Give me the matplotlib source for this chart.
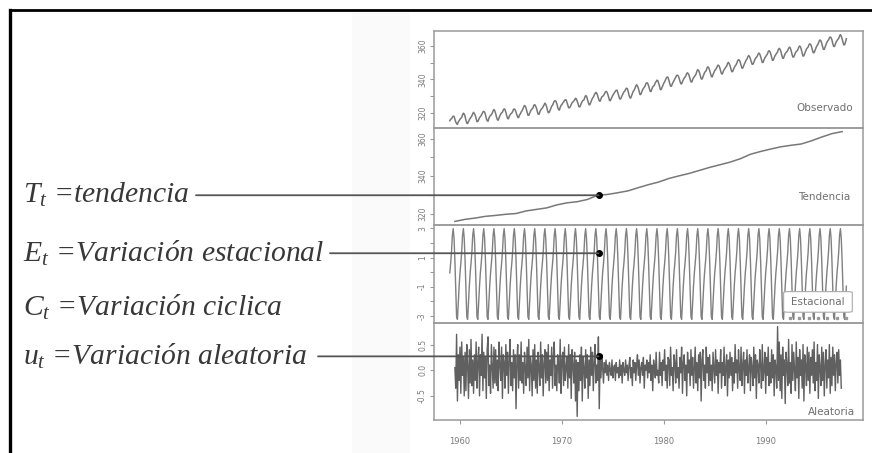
import numpy as np
import matplotlib.pyplot as plt
import matplotlib.transforms as mtransforms
from matplotlib.patches import ConnectionPatch, Rectangle, FancyBboxPatch
from matplotlib.lines import Line2D

plt.rcParams["mathtext.fontset"] = "custom"
plt.rcParams["mathtext.it"] = "Liberation Serif:italic"
plt.rcParams["mathtext.rm"] = "Liberation Serif"

# ---- data (monthly CO2-like series, 1959-1997) ----
obs_years = list(range(1959, 1998))
observed = [
    [315.4, 316.3, 316.5, 317.6, 318.1, 318.0, 316.4, 314.7, 313.7, 313.2, 314.7, 315.4],
    [316.3, 316.8, 317.4, 318.9, 319.9, 319.4, 318.0, 315.7, 314.0, 313.7, 314.8, 316.0],
    [316.7, 317.5, 318.3, 319.6, 320.4, 319.6, 318.6, 316.6, 314.8, 315.0, 316.0, 317.2],
    [317.9, 318.5, 319.5, 320.6, 321.0, 320.5, 319.0, 316.8, 315.4, 315.1, 316.8, 317.9],
    [318.6, 319.1, 319.9, 321.3, 322.1, 321.3, 319.7, 317.6, 316.0, 315.7, 317.1, 318.4],
    [319.4, 320.1, 320.5, 321.8, 322.5, 322.1, 320.5, 318.5, 316.8, 316.5, 317.9, 319.0],
    [319.6, 320.0, 320.8, 322.2, 322.4, 321.9, 320.4, 318.9, 317.5, 317.2, 318.8, 319.4],
    [320.6, 321.3, 322.3, 323.6, 324.5, 324.0, 322.6, 320.6, 318.7, 318.6, 319.9, 321.0],
    [321.9, 322.5, 323.1, 324.6, 325.0, 324.2, 323.0, 321.2, 319.3, 319.2, 320.6, 321.8],
    [322.4, 323.0, 323.9, 324.8, 325.9, 325.2, 323.8, 321.6, 320.2, 320.3, 321.5, 322.7],
    [324.1, 324.6, 325.9, 327.0, 327.4, 327.0, 325.6, 323.6, 322.1, 321.7, 323.3, 324.6],
    [325.0, 326.0, 326.5, 327.6, 327.8, 327.8, 326.3, 324.7, 323.1, 323.1, 324.0, 325.1],
    [326.1, 326.6, 327.2, 327.8, 328.8, 328.4, 327.1, 325.6, 323.8, 323.6, 324.7, 326.0],
    [326.9, 327.6, 327.8, 329.4, 330.4, 330.0, 328.4, 326.4, 324.9, 325.0, 326.4, 327.6],
    [328.8, 329.4, 330.6, 331.6, 332.3, 331.9, 330.6, 328.8, 327.3, 327.0, 328.4, 329.6],
    [329.9, 330.6, 331.2, 332.5, 332.9, 332.6, 331.2, 329.6, 327.6, 327.3, 328.4, 329.4],
    [330.6, 331.4, 332.1, 333.0, 333.6, 333.6, 331.9, 330.1, 328.5, 328.3, 329.4, 330.6],
    [331.6, 332.6, 333.0, 334.1, 334.8, 334.6, 333.0, 330.8, 329.2, 328.9, 330.3, 331.6],
    [332.9, 333.6, 334.7, 336.0, 336.9, 336.1, 334.8, 332.9, 331.0, 331.1, 332.6, 333.9],
    [334.7, 335.4, 336.1, 337.6, 338.1, 337.8, 336.4, 334.6, 332.9, 332.8, 334.4, 335.6],
    [336.1, 336.7, 338.0, 338.8, 339.6, 339.3, 337.7, 336.1, 333.9, 334.1, 335.3, 336.6],
    [337.8, 338.6, 339.8, 340.9, 341.5, 341.3, 339.4, 337.7, 336.0, 336.0, 337.3, 338.4],
    [339.4, 340.3, 341.3, 342.4, 342.6, 342.2, 340.8, 339.1, 337.5, 337.4, 338.6, 339.9],
    [340.8, 341.4, 342.2, 343.6, 344.0, 343.3, 342.1, 340.2, 338.6, 338.5, 339.9, 341.1],
    [341.6, 342.5, 343.2, 345.0, 345.9, 345.4, 344.1, 342.4, 340.4, 340.2, 341.4, 342.8],
    [344.1, 344.8, 345.3, 347.0, 347.6, 346.9, 345.5, 343.6, 341.8, 341.5, 343.0, 344.2],
    [345.3, 346.0, 346.7, 347.9, 348.6, 348.2, 346.9, 345.0, 343.4, 343.3, 344.8, 345.8],
    [346.5, 347.4, 347.9, 349.5, 350.2, 349.5, 348.3, 346.4, 344.7, 344.7, 345.9, 347.1],
    [348.1, 348.7, 349.7, 351.2, 351.8, 351.6, 350.4, 348.4, 346.8, 346.8, 348.1, 349.4],
    [350.4, 351.6, 352.2, 353.6, 354.3, 353.7, 352.3, 350.7, 349.1, 349.1, 350.2, 351.5],
    [352.6, 353.3, 353.9, 355.1, 355.8, 355.2, 353.8, 352.0, 350.1, 350.3, 351.7, 352.9],
    [353.7, 354.4, 355.2, 356.6, 357.2, 356.6, 355.3, 353.2, 351.4, 351.6, 353.0, 354.2],
    [354.9, 355.7, 356.5, 358.0, 358.6, 357.9, 356.6, 354.5, 352.7, 352.7, 354.2, 355.4],
    [356.1, 356.6, 357.4, 358.6, 359.3, 358.8, 357.1, 355.0, 353.4, 353.4, 354.6, 355.9],
    [356.7, 357.1, 358.0, 359.3, 360.0, 359.4, 357.8, 355.7, 353.9, 354.2, 355.5, 356.7],
    [358.2, 358.8, 359.4, 360.8, 361.3, 360.9, 359.6, 357.6, 356.0, 356.0, 357.3, 358.6],
    [359.8, 360.6, 361.5, 363.0, 363.6, 363.1, 361.6, 359.6, 358.0, 358.0, 359.5, 360.8],
    [362.1, 363.0, 363.6, 364.8, 365.4, 364.9, 363.6, 361.5, 359.8, 359.7, 361.0, 362.4],
    [363.2, 364.0, 364.5, 366.0, 366.8, 365.8, 364.3, 362.3, 360.6, 360.8, 362.4, 364.3],
]

# trend, one value per year (mid-year)
trend = [315.8, 316.9, 317.6, 318.5, 319.0, 319.6, 320.0, 321.4, 322.2, 323.0,
         324.6, 325.7, 326.3, 327.5, 329.7, 330.2, 331.1, 332.1, 333.8, 335.4,
         336.8, 338.7, 340.1, 341.4, 343.0, 344.6, 346.0, 347.4, 349.2, 351.6,
         353.1, 354.4, 355.6, 356.4, 357.1, 358.8, 360.8, 362.6, 363.7]

# seasonal figure, Jan..Dec
seasonal = [-0.05, 0.61, 1.38, 2.52, 2.99, 2.33, 0.81, -1.25, -3.06, -3.24, -2.05, -0.96]

# random component, rows run Jul..Jun, starting Jul 1959
random_start = 1959.5
random_part = [
    [0.05, -0.35, 0.70, -0.60, 0.30, -0.20, 0.45, -0.45, 0.55, -0.10, 0.25, -0.50],
    [0.35, -0.40, 0.50, 0.10, -0.55, 0.40, -0.25, 0.60, -0.30, 0.20, -0.45, 0.30],
    [-0.20, 0.55, -0.35, 0.15, 0.45, -0.50, 0.30, -0.10, 0.70, -0.40, 0.35, -0.15],
    [0.25, -0.55, 0.40, 0.65, -0.30, 0.10, -0.45, 0.50, 0.05, -0.35, 0.45, -0.25],
    [0.40, -0.30, 0.20, -0.40, 0.55, 0.10, -0.20, 0.45, -0.55, 0.30, 0.15, -0.35],
    [0.50, -0.10, 0.35, -0.45, 0.20, 0.60, -0.30, 0.15, -0.40, 0.40, -0.15, 0.30],
    [-0.75, 0.20, 0.50, -0.35, 0.30, -0.20, 0.55, -0.25, 0.15, -0.45, 0.35, 0.05],
    [-0.30, 0.45, -0.15, 0.60, -0.40, 0.25, 0.10, -0.50, 0.40, -0.20, 0.50, -0.35],
    [0.20, -0.45, 0.35, 0.05, -0.30, 0.55, -0.15, 0.30, -0.50, 0.15, 0.40, -0.25],
    [0.35, -0.20, 0.50, -0.40, 0.20, -0.10, 0.45, -0.35, 0.25, 0.55, -0.30, 0.10],
    [-0.40, 0.30, 0.15, -0.25, 0.60, -0.45, 0.20, 0.35, -0.30, 0.45, -0.20, 0.05],
    [0.25, -0.35, 0.50, -0.15, 0.30, -0.55, 0.40, 0.10, -0.25, 0.35, -0.60, 0.20],
    [-0.90, 0.15, -0.40, 0.30, -0.20, 0.45, -0.60, 0.25, 0.05, -0.35, 0.40, -0.15],
    [0.30, -0.55, 0.20, -0.30, 0.45, -0.10, 0.35, -0.40, 0.15, 0.50, -0.25, 0.10],
    [-0.20, 0.65, -0.75, 0.20, -0.15, 0.30, 0.05, -0.25, 0.15, -0.05, 0.20, -0.10],
    [0.10, -0.20, 0.15, 0.00, -0.10, 0.20, -0.15, 0.05, 0.10, -0.20, 0.15, -0.05],
    [0.05, -0.15, 0.20, -0.10, 0.10, -0.25, 0.15, 0.00, -0.10, 0.20, -0.05, 0.10],
    [-0.20, 0.10, 0.25, -0.15, 0.05, -0.30, 0.20, -0.05, 0.15, -0.20, 0.10, 0.30],
    [-0.10, 0.20, -0.25, 0.05, 0.15, -0.10, 0.25, -0.35, 0.10, 0.00, 0.20, -0.15],
    [0.15, -0.05, 0.30, -0.20, 0.10, -0.40, 0.20, 0.05, -0.15, 0.35, -0.10, 0.00],
    [-0.25, 0.35, -0.10, 0.15, -0.30, 0.20, 0.00, 0.40, -0.20, 0.10, -0.35, 0.25],
    [0.20, -0.30, 0.45, -0.10, 0.05, -0.40, 0.30, 0.15, -0.25, 0.40, -0.15, 0.05],
    [-0.35, 0.25, -0.05, 0.45, -0.45, 0.15, 0.30, -0.20, 0.10, -0.50, 0.35, -0.05],
    [0.20, -0.30, 0.40, -0.10, 0.25, -0.35, 0.05, 0.45, -0.25, 0.15, -0.40, 0.30],
    [-0.15, 0.35, -0.60, 0.20, 0.40, -0.20, 0.10, -0.35, 0.45, -0.05, 0.25, -0.30],
    [0.30, -0.20, 0.10, -0.40, 0.35, 0.05, -0.25, 0.40, -0.10, 0.20, -0.45, 0.15],
    [-0.05, 0.40, -0.35, 0.15, -0.10, 0.45, -0.30, 0.05, 0.30, -0.50, 0.20, -0.15],
    [0.35, -0.10, 0.25, -0.40, 0.15, -0.25, 0.50, -0.05, 0.20, -0.35, 0.40, 0.00],
    [-0.20, 0.45, -0.30, 0.10, 0.35, -0.45, 0.20, -0.10, 0.40, -0.25, 0.05, 0.30],
    [-0.40, 0.25, 0.05, -0.30, 0.45, -0.15, 0.30, -0.55, 0.20, 0.10, -0.25, 0.40],
    [0.10, -0.35, 0.50, -0.20, 0.00, 0.35, -0.45, 0.25, -0.10, 0.45, -0.30, 0.15],
    [-0.25, 0.40, -0.15, 0.30, -0.50, 0.20, 0.05, -0.35, 0.85, -0.20, 0.55, -0.40],
    [0.30, -0.55, 0.45, -0.10, 0.20, -0.65, 0.35, 0.10, -0.30, 0.60, -0.25, 0.15],
    [-0.45, 0.50, -0.20, 0.35, 0.00, -0.40, 0.55, -0.15, 0.25, -0.55, 0.40, -0.10],
    [0.20, -0.35, 0.50, -0.60, 0.30, 0.10, -0.30, 0.45, -0.20, 0.35, -0.45, 0.25],
    [-0.10, 0.40, -0.25, 0.55, -0.40, 0.15, -0.20, 0.50, -0.55, 0.30, 0.05, -0.30],
    [0.45, -0.20, 0.35, -0.50, 0.10, 0.40, -0.35, 0.20, -0.15, 0.50, -0.45, 0.25],
    [-0.30, 0.45, -0.10, 0.30, -0.40, 0.15, 0.35, -0.25, 0.40, -0.10, 0.20, -0.35],
]

panel_names = ["Observado", "Tendencia", "Estacional", "Aleatoria"]
x_ticks = [1960, 1970, 1980, 1990]

labels_left = [r"$T_t$ =tendencia", r"$E_t$ =Variación estacional",
               r"$C_t$ =Variación ciclica", r"$u_t$ =Variación aleatoria"]
marker_year = 1973.6
marker_seasonal = 1.3
marker_random = 0.27

# ---- layout ----
W, H = 872, 453
fig = plt.figure(figsize=(W / 100, H / 100), dpi=100)


def fx(px):
    return px / W


def fy(py):
    return 1 - py / H


LINE = "#787878"
FRAME = "#9a9a9a"
TICKC = "#7a7a7a"

obs = np.array(observed).ravel()
t_obs = np.array([y + m / 12 for y in obs_years for m in range(12)])
t_trend = np.array(obs_years) + 0.5
seas = np.tile(seasonal, len(obs_years))
rnd = np.array(random_part).ravel()
t_rnd = random_start + np.arange(len(rnd)) / 12

# light screenshot band + outer frame
fig.add_artist(Rectangle((fx(352), 0), fx(410) - fx(352), fy(12), transform=fig.transFigure,
                         facecolor="#fafafa", edgecolor="none", zorder=0))
fig.add_artist(Line2D([fx(10), fx(10)], [0, fy(10)], color="black", lw=2.4, transform=fig.transFigure))
fig.add_artist(Line2D([fx(10), 1], [fy(10), fy(10)], color="black", lw=2.0, transform=fig.transFigure))

tops = [31, 128, 225, 323]
bots = [128, 225, 323, 420]
axes = []
for top, bot in zip(tops, bots):
    ax = fig.add_axes([fx(434), fy(bot), fx(863) - fx(434), (bot - top) / H])
    axes.append(ax)

series = [(t_obs, obs), (t_trend, np.array(trend)), (t_obs, seas), (t_rnd, rnd)]
widths = [1.1, 1.1, 1.0, 1.0]
colors = [LINE, LINE, "#808080", "#606060"]
yticks = [[320, 330, 340, 350, 360], [320, 330, 340, 350, 360],
          [-3, -2, -1, 0, 1, 2, 3], [-0.5, 0.0, 0.5]]
ylabels = [["320", "", "340", "", "360"], ["320", "", "340", "", "360"],
           ["-3", "", "-1", "", "1", "", "3"], ["-0.5", "0.0", "0.5"]]

for ax, (tx, ty), yt, yl, lw, c in zip(axes, series, yticks, ylabels, widths, colors):
    ax.plot(tx, ty, color=c, lw=lw)
    ax.set_xlim(1957.45, 1999.55)
    pad = 0.04 * (ty.max() - ty.min())
    ax.set_ylim(ty.min() - pad, ty.max() + pad)
    ax.set_yticks(yt)
    ax.set_yticklabels(yl, rotation=90, va="center", fontsize=5.5, color=TICKC)
    for s in ax.spines.values():
        s.set_color(FRAME)
        s.set_linewidth(1.1)
    ax.tick_params(axis="y", length=3, width=0.8, color=FRAME, pad=2)
    ax.tick_params(axis="x", length=3, width=0.8, color=FRAME)
    ax.set_xticks(x_ticks)
    ax.set_xticklabels([])
    ax.patch.set_alpha(0)

for ax in axes[:3]:
    ax.tick_params(axis="x", length=0)
axes[3].set_xticklabels([str(v) for v in x_ticks], fontsize=6, color=TICKC)
axes[3].tick_params(axis="x", pad=9)

lab_kw = dict(fontsize=7.5, color="#6f6f6f", ha="right", va="center")
axes[0].text(0.977, 0.206, panel_names[0], transform=axes[0].transAxes, **lab_kw)
axes[1].text(0.970, 0.289, panel_names[1], transform=axes[1].transAxes, **lab_kw)
axes[3].text(0.981, 0.085, panel_names[3], transform=axes[3].transAxes, **lab_kw)
box = FancyBboxPatch((0.815, 0.11), 0.16, 0.21, transform=axes[2].transAxes,
                     boxstyle="round,pad=0,rounding_size=0.01", facecolor="white",
                     edgecolor="#aaaaaa", lw=0.8, zorder=4)
axes[2].add_patch(box)
axes[2].text(0.895, 0.215, panel_names[2], transform=axes[2].transAxes, fontsize=7.5,
             color="#6f6f6f", ha="center", va="center", zorder=5)
axes[2].plot(np.linspace(0.83, 0.96, 7), [0.055] * 7, ls="none", marker="s", ms=1.5,
             color="#999999", transform=axes[2].transAxes, zorder=5)

# ---- callouts on the left ----
txt_kw = dict(fontsize=21.3, color="#383838", family="Liberation Serif", style="italic",
              ha="left", va="center")
trend_at_marker = float(np.interp(marker_year, t_trend, trend))
callouts = [
    (axes[1], labels_left[0], trend_at_marker, 196),
    (axes[2], labels_left[1], marker_seasonal, 330),
    (axes[3], labels_left[3], marker_random, 318),
]
for ax, label, val, x_line in callouts:
    trans = mtransforms.blended_transform_factory(fig.transFigure, ax.transData)
    fig.text(fx(23), val, label, transform=trans, **txt_kw)
    con = ConnectionPatch(xyA=(fx(x_line), val), coordsA=trans, xyB=(marker_year, val),
                          coordsB=ax.transData, color="#555555", lw=1.3)
    fig.add_artist(con)
    ax.plot([marker_year], [val], "o", color="black", ms=4, clip_on=False, zorder=6)

fig.text(fx(23), fy(307), labels_left[2], **txt_kw)

fig.savefig("out.png", dpi=100)
